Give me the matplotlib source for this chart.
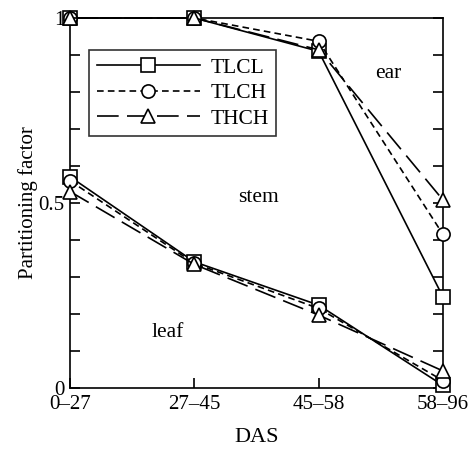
import numpy as np
import matplotlib.pyplot as plt
from matplotlib.ticker import MultipleLocator

plt.rcParams['font.family'] = ['Liberation Serif', 'DejaVu Serif']

periods = ['0\u201327', '27\u201345', '45\u201358', '58\u201396']

# leaf + stem (upper boundary: stem / ear)
tlcl_stem = [1.0, 1.0, 0.91, 0.246]
tlch_stem = [1.0, 1.0, 0.937, 0.415]
thch_stem = [1.0, 1.0, 0.914, 0.508]

# leaf (lower boundary: leaf / stem)
tlcl_leaf = [0.571, 0.341, 0.224, 0.007]
tlch_leaf = [0.560, 0.337, 0.215, 0.020]
thch_leaf = [0.531, 0.334, 0.197, 0.046]

fig = plt.figure(figsize=(4.68, 4.5), dpi=100)
ax = fig.add_axes([70 / 468, 62 / 450, 373 / 468, 370 / 450])

x = np.arange(len(periods))
styles = [
    ('TLCL', tlcl_stem, tlcl_leaf, '-', 's'),
    ('TLCH', tlch_stem, tlch_leaf, (0, (4, 2.5)), 'o'),
    ('THCH', thch_stem, thch_leaf, (0, (13, 5)), '^'),
]
for name, upper, lower, ls, mk in styles:
    for vals, lab in ((upper, name), (lower, None)):
        ax.plot(x, vals, linestyle=ls, color='black', linewidth=1.2,
                marker=mk, markersize=9.5, markerfacecolor='white',
                markeredgecolor='black', markeredgewidth=1.2,
                clip_on=False, zorder=3, label=lab)

ax.set_xlim(0, 3)
ax.set_ylim(0, 1)
ax.set_xticks(x)
ax.set_xticklabels(periods)
ax.set_yticks([0, 0.5, 1], ['0', '0.5', '1'])
ax.yaxis.set_minor_locator(MultipleLocator(0.1))
ax.tick_params(axis='both', which='both', direction='in', labelsize=15,
               width=1.2, length=7)
ax.tick_params(axis='y', which='both', right=True, pad=4)
ax.tick_params(axis='x', pad=5)
for s in ax.spines.values():
    s.set_linewidth(1.2)

ax.set_xlabel('DAS', fontsize=16, labelpad=10)
ax.set_ylabel('Partitioning factor', fontsize=15, labelpad=0)

ax.text(2.56, 0.85, 'ear', fontsize=15.5, ha='center', va='center')
ax.text(1.52, 0.516, 'stem', fontsize=15.5, ha='center', va='center')
ax.text(0.79, 0.15, 'leaf', fontsize=15.5, ha='center', va='center')

leg = ax.legend(loc='upper left', bbox_to_anchor=(0.051, 0.913), fontsize=15.5,
                frameon=True, fancybox=False, edgecolor='black',
                handlelength=4.8, labelspacing=0.25, borderpad=0.35,
                handletextpad=0.5, borderaxespad=0)
leg.get_frame().set_linewidth(1.2)

fig.savefig('out.png', dpi=100)
